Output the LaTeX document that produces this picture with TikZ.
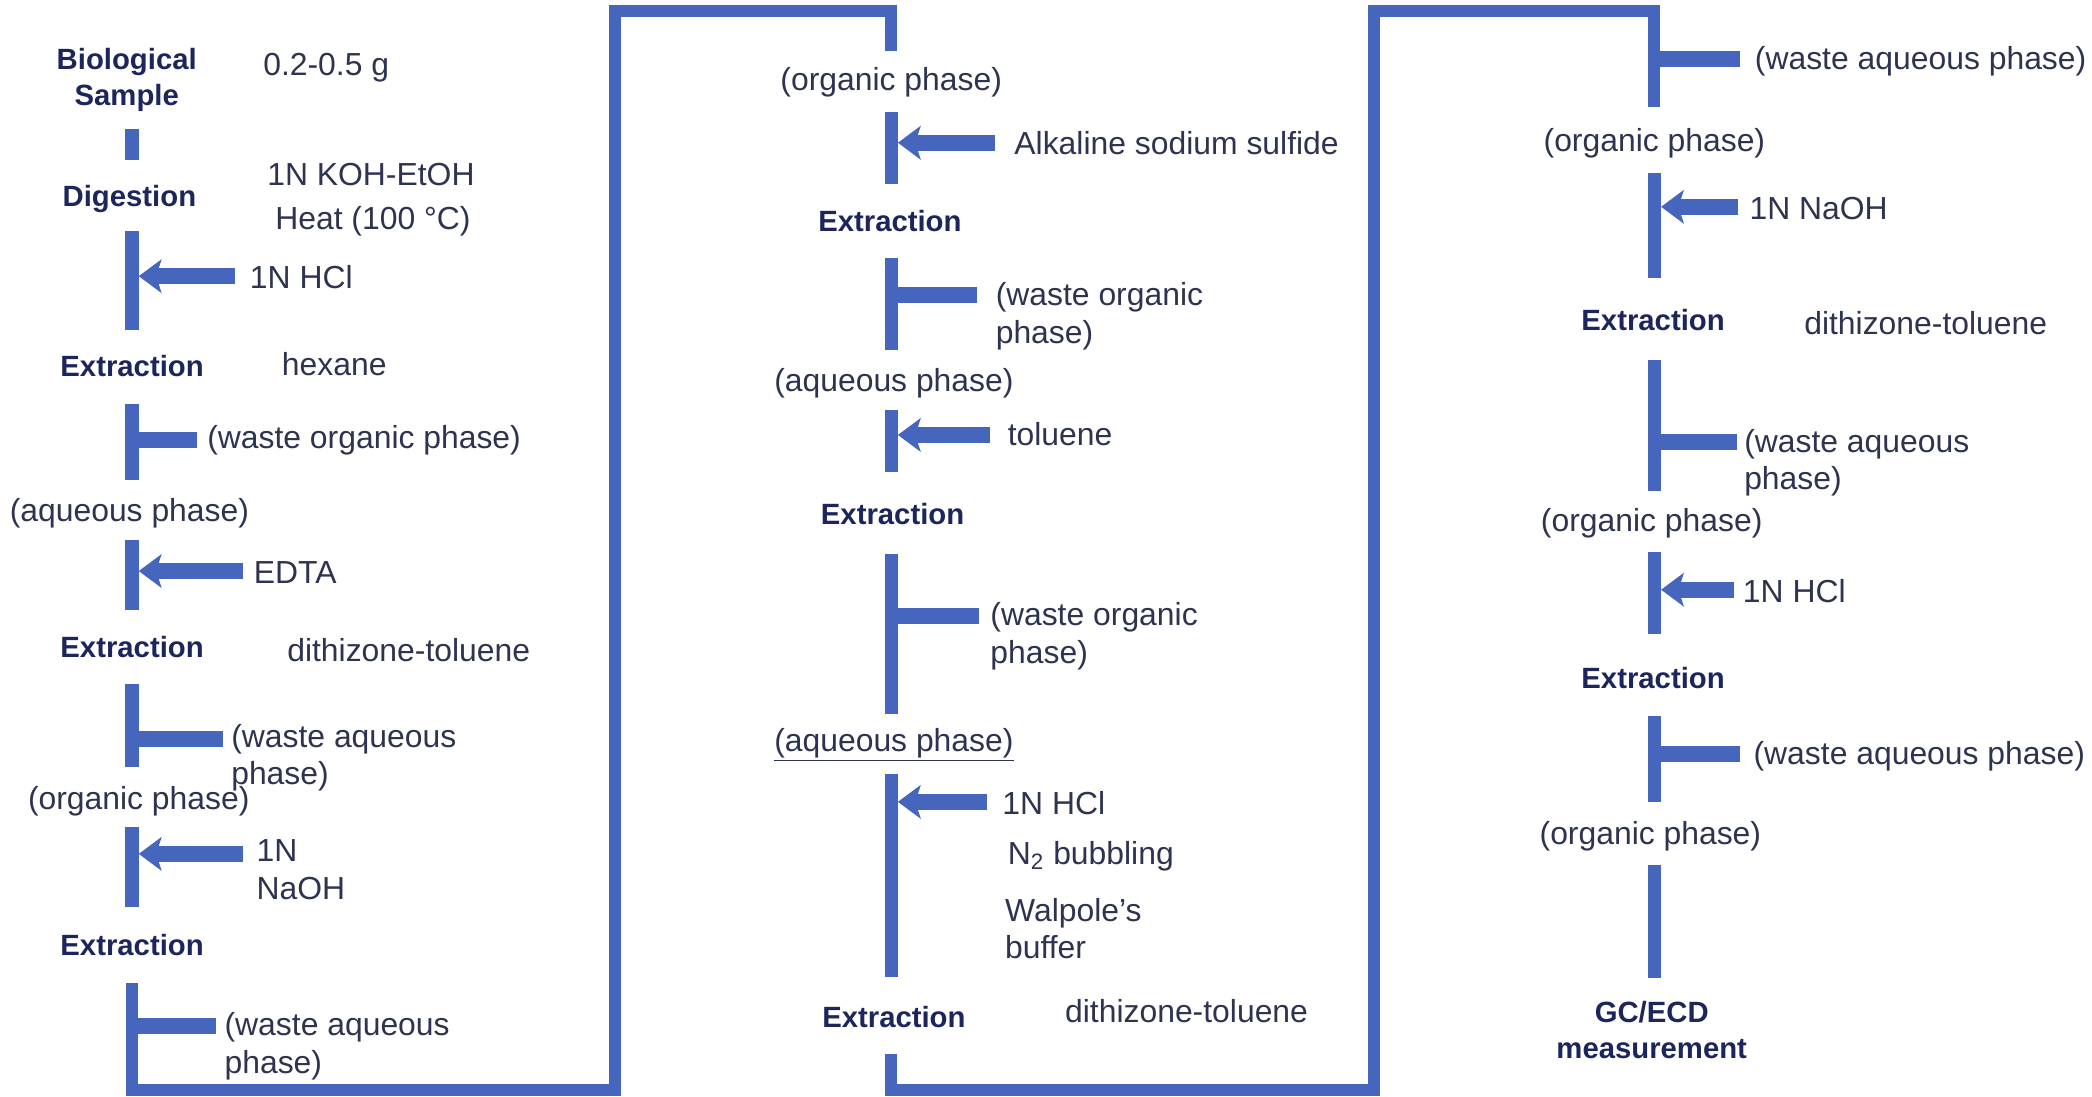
\documentclass[tikz,border=0pt]{standalone}
\usepackage{fontspec}
\setmainfont{Liberation Sans}
\usetikzlibrary{arrows.meta}

\definecolor{flow}{RGB}{70,102,190}
\definecolor{stagetext}{RGB}{28,38,92}
\definecolor{notetext}{RGB}{46,52,80}

\begin{document}
\begin{tikzpicture}[x=0.02cm, y=-0.02cm,
    bar/.style={line width=0.2cm, flow},
    loop/.style={line width=0.18cm, flow},
    feed/.style={line width=0.24cm, flow, -{Stealth[length=0.34cm,width=0.5cm,inset=0.08cm]}, shorten >=0.1cm},
    drain/.style={line width=0.24cm, flow},
    stage/.style={font=\fontsize{12.5}{15.5}\selectfont\bfseries, text=stagetext, align=center, inner sep=0pt},
    note/.style={font=\fontsize{13.6}{16}\selectfont, text=notetext, anchor=west, align=left, inner sep=0pt},
    phase/.style={note, anchor=center, align=center, yshift=-0.05cm}]

\useasboundingbox (0,0) rectangle (1568,822);

% left column
\foreach \i/\ya/\yb in {1/97/120, 2/173/247, 3/303/360, 4/405/457, 5/513/575, 6/620/680}
{
    \coordinate (l\i) at (99,\ya);
    \coordinate (l\i e) at (99,\yb);
    \draw[bar] (l\i) -- (l\i e);
}
\coordinate (l7) at (99,737);

% middle column
\foreach \i/\ya/\yb in {1/84/138, 2/193/262, 3/307/354, 4/415/535, 5/580/732}
{
    \coordinate (m\i) at (668,\ya);
    \coordinate (m\i e) at (668,\yb);
    \draw[bar] (m\i) -- (m\i e);
}
\coordinate (m0) at (668,38);
\coordinate (m6) at (668,790);

% right column
\foreach \i/\ya/\yb in {1/130/208, 2/270/368, 3/414/475, 4/537/601, 5/648/733}
{
    \coordinate (r\i) at (1240,\ya);
    \coordinate (r\i e) at (1240,\yb);
    \draw[bar] (r\i) -- (r\i e);
}
\coordinate (r0) at (1240,80);

% the two links between the columns
\coordinate (turn1) at (461,817);
\coordinate (turn2) at (668,8);
\coordinate (turn3) at (1030,817);
\coordinate (turn4) at (1240,8);
\draw[loop] (l7) |- (turn1) |- (turn2) -- (m0);
\draw[loop] (m6) |- (turn3) |- (turn4) -- (r0);

% reagents in
\coordinate (f1) at (176,207);
\coordinate (f2) at (182,428);
\coordinate (f3) at (182,640);
\coordinate (f4) at (746,107);
\coordinate (f5) at (742,326);
\coordinate (f6) at (740,601);
\coordinate (f7) at (1303,155);
\coordinate (f8) at (1300,442);
\foreach \f/\b in {f1/l2, f2/l4, f3/l6, f4/m1, f5/m3, f6/m5, f7/r1, f8/r3}
    \draw[feed] (\f) -- (\f -| \b);

% phases out
\coordinate (w1) at (148,330);
\coordinate (w2) at (167,554);
\coordinate (w3) at (162,769);
\coordinate (w4) at (732,221);
\coordinate (w5) at (734,462);
\coordinate (w6) at (1304,44);
\coordinate (w7) at (1302,331);
\coordinate (w8) at (1304,565);
\foreach \w/\b in {w1/l3, w2/l5, w3/l7, w4/m2, w5/m4, w6/r0, w7/r2, w8/r4}
    \draw[drain] (\w -| \b) -- (\w);

% left column text
\node[stage] (bio) at (95,60) {Biological\\Sample};
\node[note] (mass) at (197,51) {0.2-0.5 g};
\node[stage] (dig) at (97,149) {Digestion};
\node[note] (koh) at (200,131) {1N KOH-EtOH};
\node[note] (heat) at (206,166) {Heat (100 °C)};
\node[note] (hcl1) at (187,208) {1N HCl};
\node[stage] (ext1) at (99,274) {Extraction};
\node[note] (hex) at (211,273) {hexane};
\node[note] (wo1) at (155,330) {(waste organic phase)};
\node[phase] (aq1) at (97,382) {(aqueous phase)};
\node[note] (edta) at (190,429) {EDTA};
\node[stage] (ext2) at (99,485) {Extraction};
\node[note] (dz1) at (215,487) {dithizone-toluene};
\node[note] (wa1) at (173,568) {(waste aqueous\\phase)};
\node[phase] (org1) at (104,598) {(organic phase)};
\node[note] (naoh1) at (192,652) {1N\\NaOH};
\node[stage] (ext3) at (99,708) {Extraction};
\node[note] (wa2) at (168,784) {(waste aqueous\\phase)};

% middle column text
\node[phase] (org2) at (668,59) {(organic phase)};
\node[note] (sulf) at (760,107) {Alkaline sodium sulfide};
\node[stage] (ext4) at (667,166) {Extraction};
\node[note] (wo2) at (746,237) {(waste organic\\phase)};
\node[phase] (aq2) at (670,285) {(aqueous phase)};
\node[note] (tol) at (755,325) {toluene};
\node[stage] (ext5) at (669,385) {Extraction};
\node[note] (wo3) at (742,477) {(waste organic\\phase)};
\node[phase] (aq3) at (670,556) {\underline{(aqueous phase)}};
\node[note] (hcl2) at (751,602) {1N HCl};
\node[note] (bub) at (755,642) {N\textsubscript{2} bubbling};
\node[note] (buf) at (753,696) {Walpole’s\\buffer};
\node[stage] (ext6) at (670,762) {Extraction};
\node[note] (dz2) at (798,758) {dithizone-toluene};

% right column text
\node[note] (wa3) at (1315,46) {(waste aqueous phase)};
\node[phase] (org3) at (1240,105) {(organic phase)};
\node[note] (naoh2) at (1311,156) {1N NaOH};
\node[stage] (ext7) at (1239,240) {Extraction};
\node[note] (dz3) at (1352,242) {dithizone-toluene};
\node[note] (wa4) at (1307,347) {(waste aqueous\\phase)};
\node[phase] (org4) at (1238,390) {(organic phase)};
\node[note] (hcl3) at (1306,443) {1N HCl};
\node[stage] (ext8) at (1239,508) {Extraction};
\node[note] (wa5) at (1314,567) {(waste aqueous phase)};
\node[phase] (org5) at (1237,624) {(organic phase)};
\node[stage] (gc) at (1238,772) {GC/ECD\\measurement};

\end{tikzpicture}
\end{document}
